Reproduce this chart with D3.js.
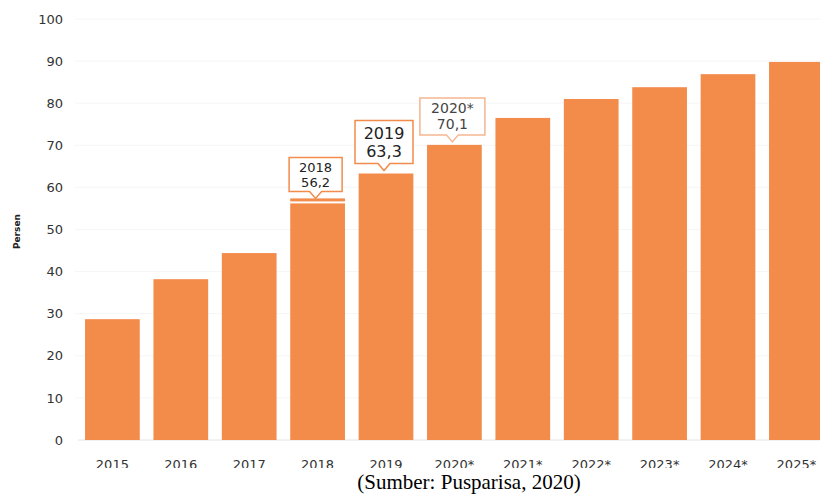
<!DOCTYPE html>
<html>
<head>
<meta charset="utf-8">
<script src="https://cdn.jsdelivr.net/npm/d3@7"></script>
<style>
  body { margin: 0; background: #fff; }
  svg { display: block; }
</style>
</head>
<body>
<svg></svg>
<script>
const width = 820;
const height = 494;

// data
const years = ["2015", "2016", "2017", "2018", "2019", "2020*", "2021*", "2022*", "2023*", "2024*", "2025*"];
const values = [28.7, 38.2, 44.4, 56.2, 63.3, 70.1, 76.5, 81.0, 83.8, 86.9, 89.8];
const yTicks = [0, 10, 20, 30, 40, 50, 60, 70, 80, 90, 100];
const callouts = ["2018", "2019", "2020*"];
const calloutText = ["56,2", "63,3", "70,1"];

const svg = d3.select("svg")
    .attr("width", width)
    .attr("height", height);

const x = d3.scaleBand()
    .domain(years)
    .range([78.2, 830.6])
    .paddingInner(0.2)
    .paddingOuter(0.1);

const y = d3.scaleLinear()
    .domain([0, 100])
    .range([440, 19]);

// faint grid
svg.append("g")
    .selectAll("line")
    .data(yTicks.slice(1))
    .join("line")
    .attr("x1", 75).attr("x2", width)
    .attr("y1", d => y(d)).attr("y2", d => y(d))
    .attr("stroke", "#f6f6f6");

// y axis labels
const yAxis = svg.append("g")
    .attr("transform", "translate(70,0)")
    .call(d3.axisLeft(y).tickValues(yTicks).tickSize(0).tickPadding(7));
yAxis.select(".domain").remove();
yAxis.selectAll("text")
    .attr("font-family", "Verdana, 'DejaVu Sans', sans-serif")
    .attr("font-size", 13)
    .attr("fill", "#333");

svg.append("text")
    .attr("transform", `translate(20,${y(49.5)}) rotate(-90)`)
    .attr("text-anchor", "middle")
    .attr("font-family", "'DejaVu Sans', sans-serif")
    .attr("font-size", 9)
    .attr("font-weight", "bold")
    .attr("fill", "#222")
    .text("Persen");

// baseline
svg.append("line")
    .attr("x1", 78).attr("x2", width)
    .attr("y1", 440).attr("y2", 440)
    .attr("stroke", "#e4e4e4");

// bars
svg.selectAll(".bar")
    .data(years.map((d, i) => ({ year: d, value: values[i] })))
    .join("rect")
    .attr("class", "bar")
    .attr("x", d => x(d.year))
    .attr("y", d => y(d.value))
    .attr("width", x.bandwidth())
    .attr("height", d => y(0) - y(d.value))
    .attr("fill", "#f38b4b");

// hover strip on 2018
svg.append("rect")
    .attr("x", x("2018"))
    .attr("y", y(56.2) - 5)
    .attr("width", x.bandwidth())
    .attr("height", 3)
    .attr("fill", "#f38b4b");

// x labels
const xAxis = svg.append("g")
    .attr("transform", "translate(0,440)")
    .call(d3.axisBottom(x).tickSize(0).tickPadding(20));
xAxis.select(".domain").remove();
xAxis.selectAll("text")
    .attr("font-family", "Verdana, 'DejaVu Sans', sans-serif")
    .attr("font-size", 13)
    .attr("fill", "#333");

// callouts
const boxSpec = [
    { w: 53, h: 34, fs: 13, color: "#222", stroke: "#f38b4b" },
    { w: 58, h: 43, fs: 16, color: "#222", stroke: "#f38b4b" },
    { w: 65, h: 37, fs: 14, color: "#444", stroke: "#f5b690" }
];
callouts.forEach((yr, i) => {
    const s = boxSpec[i];
    const cx = x(yr) + x.bandwidth() / 2 - 2;
    const tipY = y(values[years.indexOf(yr)]) - (i === 0 ? 5 : 3);
    const bottom = tipY - 7;
    const top = bottom - s.h;
    const left = cx - s.w / 2, right = cx + s.w / 2;
    const path = d3.path();
    path.moveTo(left, top);
    path.lineTo(right, top);
    path.lineTo(right, bottom);
    path.lineTo(cx + 6, bottom);
    path.lineTo(cx, tipY);
    path.lineTo(cx - 6, bottom);
    path.lineTo(left, bottom);
    path.closePath();
    svg.append("path")
        .attr("d", path.toString())
        .attr("fill", "#fff")
        .attr("stroke", s.stroke)
        .attr("stroke-width", 1.5);
    const lineGap = s.fs * 1.15;
    const mid = top + s.h / 2;
    [yr, calloutText[i]].forEach((txt, k) => {
        svg.append("text")
            .attr("x", cx)
            .attr("y", mid + (k === 0 ? -lineGap / 2 : lineGap / 2))
            .attr("dy", "0.36em")
            .attr("text-anchor", "middle")
            .attr("font-family", "Verdana, 'DejaVu Sans', sans-serif")
            .attr("font-size", s.fs)
            .attr("fill", s.color)
            .text(txt);
    });
});

// caption covers the lower part of the x labels
svg.append("rect")
    .attr("x", 0).attr("y", 468)
    .attr("width", width).attr("height", height - 468)
    .attr("fill", "#fff");

svg.append("text")
    .attr("x", 469)
    .attr("y", 489)
    .attr("text-anchor", "middle")
    .attr("font-family", "'Liberation Serif', 'Times New Roman', serif")
    .attr("font-size", 21)
    .attr("fill", "#000")
    .text("(Sumber: Pusparisa, 2020)");
</script>
</body>
</html>
